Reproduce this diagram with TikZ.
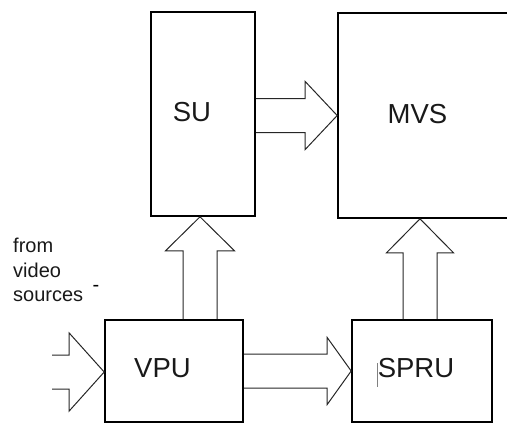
\documentclass[tikz,border=0pt]{standalone}
\usepackage{fontspec}
\setmainfont{Liberation Sans}
\usetikzlibrary{calc}

\tikzset{
  unit/.style={shape=rectangle,draw=black,line width=1.6pt,inner sep=0pt},
  unitname/.style={font=\fontsize{27.5}{30}\selectfont,text=black!90,inner sep=0pt},
  % hollow block arrow: #1 = head length, #2 = half width of the head
  fat/.style 2 args={draw=black!85,line width=1pt,line join=miter,to path={
      ($(\tikztostart)!17pt!90:(\tikztotarget)$)
      -- ($($(\tikztotarget)!#1!(\tikztostart)$)!17pt!90:(\tikztotarget)$)
      -- ($($(\tikztotarget)!#1!(\tikztostart)$)!#2!90:(\tikztotarget)$)
      -- (\tikztotarget)
      -- ($($(\tikztotarget)!#1!(\tikztostart)$)!#2!-90:(\tikztotarget)$)
      -- ($($(\tikztotarget)!#1!(\tikztostart)$)!17pt!-90:(\tikztotarget)$)
      -- ($(\tikztostart)!17pt!-90:(\tikztotarget)$)}}
}

\begin{document}
\begin{tikzpicture}[x=1pt,y=-1pt]
      \useasboundingbox (0,0) rectangle (507,424);
      \clip (0,0) rectangle (507,424);

      \node[unit,minimum width=104pt,minimum height=204pt] (SU) at (203,114) {};
      \node[unit,minimum width=192pt,minimum height=205pt] (MVS) at (434,115.5) {};
      \node[unit,minimum width=138pt,minimum height=102pt] (VPU) at (174,371) {};
      \node[unit,minimum width=140pt,minimum height=102pt] (SPRU) at (422,371) {};

      \node[unitname] (SUt) at (192,112.5) {SU};
      \node[unitname] (MVSt) at (417.5,114.5) {MVS};
      \node[unitname] (VPUt) at (162.5,368) {VPU};
      \node[unitname] (SPRUt) at (416,368) {SPRU};

      \node[anchor=north west,align=left,inner sep=0pt,
            font=\fontsize{20}{24.5}\selectfont,text=black!90] (src) at (13,238) {from\\video\\sources};
      \node[font=\fontsize{20}{20}\selectfont,inner sep=0pt] (dash) at (96,288) {-};

      % cursor mark left of SPRU
      \draw[gray,line width=0.6pt] (377,363) -- (377,387);

      \coordinate (srcIn) at (52,372);
      \coordinate (upL) at ($(SU.south)+(-3,0)$);
      \coordinate (upR) at ($(SPRU.north)+(-2,0)$);

      \draw[fat={35pt}{39pt}] (srcIn) to (srcIn -| VPU.west);
      \draw[fat={32pt}{34pt}] (SU.east |- MVS.west) to (MVS.west);
      \draw[fat={24pt}{33.5pt}] (VPU.east) to (SPRU.west);
      \draw[fat={34pt}{34.5pt}] (upL |- VPU.north) to (upL);
      \draw[fat={34pt}{33.5pt}] (upR) to (upR |- MVS.south);
\end{tikzpicture}
\end{document}
